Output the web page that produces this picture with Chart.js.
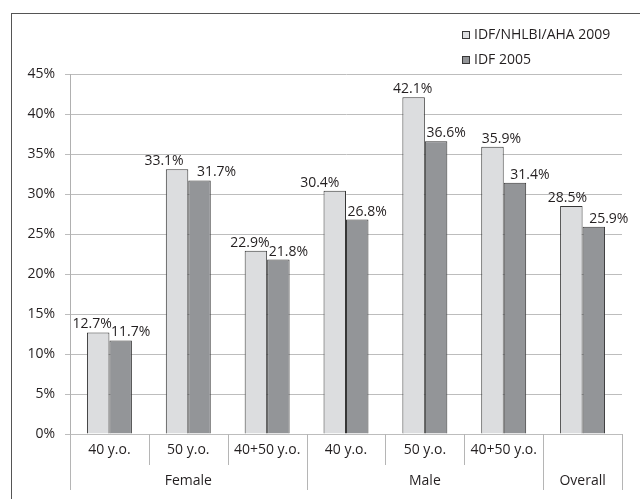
<!DOCTYPE html>
<html>
<head>
<meta charset="utf-8">
<script src="https://cdn.jsdelivr.net/npm/chart.js@4"></script>
<style>
  html, body { margin: 0; padding: 0; background: #ffffff; }
  #wrap { width: 640px; height: 499px; position: relative; }
</style>
</head>
<body>
<div id="wrap"><canvas id="chart"></canvas></div>
<script>
// Age groups along the x axis, and the sex groups they belong to
const categories = ['40 y.o.', '50 y.o.', '40+50 y.o.', '40 y.o.', '50 y.o.', '40+50 y.o.', ''];
const groupLabels = ['Female', 'Male', 'Overall'];
const groupSpans = [3, 3, 1];

// Prevalence (%) by definition
const seriesNames = ['IDF/NHLBI/AHA 2009', 'IDF 2005'];
const idf2009 = [12.7, 33.1, 22.9, 30.4, 42.1, 35.9, 28.5];
const idf2005 = [11.7, 31.7, 21.8, 26.8, 36.6, 31.4, 25.9];

// Value axis
const yMin = 0;
const yMax = 45;
const yStep = 5;

// Horizontal nudges (px) for the value labels so neighbours don't collide
const labelNudge = [
  [-6, -13, -6, -15, -1, 9, -4],
  [10, 17, 10, 10, 10, 15, 15]
];

const fillColors = ['#dcdddf', '#939598'];
const edgeColor = '#363636';
const textColor = '#231f20';
const fontFamily = "'Open Sans', 'DejaVu Sans', sans-serif";
const fontSize = 14;

Chart.defaults.font.family = fontFamily;
Chart.defaults.font.size = fontSize;
Chart.defaults.color = textColor;

// Outer frame around the figure
const framePlugin = {
  id: 'frame',
  afterDraw(chart) {
    const ctx = chart.ctx;
    ctx.save();
    ctx.strokeStyle = '#555555';
    ctx.lineWidth = 1;
    ctx.strokeRect(11.5, 13.5, 700, 600);
    ctx.restore();
  }
};

// Value labels above each bar
const valueLabelPlugin = {
  id: 'valueLabels',
  afterDatasetsDraw(chart) {
    const ctx = chart.ctx;
    ctx.save();
    ctx.font = fontSize + 'px ' + fontFamily;
    ctx.fillStyle = textColor;
    ctx.textAlign = 'center';
    ctx.textBaseline = 'alphabetic';
    chart.data.datasets.forEach((ds, di) => {
      chart.getDatasetMeta(di).data.forEach((bar, i) => {
        ctx.fillText(ds.data[i].toFixed(1) + '%', bar.x + labelNudge[di][i], bar.y - 4);
      });
    });
    ctx.restore();
  }
};

// Category dividers below the axis and the sex group labels
const groupAxisPlugin = {
  id: 'groupAxis',
  afterDraw(chart) {
    const xs = chart.scales.x;
    const ctx = chart.ctx;
    const n = categories.length;
    const edges = [];
    for (let i = 0; i <= n; i++) {
      if (i === 0) edges.push(xs.left);
      else if (i === n) edges.push(xs.right);
      else edges.push((xs.getPixelForValue(i - 1) + xs.getPixelForValue(i)) / 2);
    }
    const groupEdges = [0];
    groupSpans.forEach(s => groupEdges.push(groupEdges[groupEdges.length - 1] + s));
    const top = xs.top;
    ctx.save();
    ctx.strokeStyle = '#b5b5b5';
    ctx.lineWidth = 1;
    edges.forEach((x, i) => {
      const bottom = groupEdges.includes(i) ? top + 56 : top + 31;
      const px = Math.round(x) + 0.5;
      ctx.beginPath();
      ctx.moveTo(px, top);
      ctx.lineTo(px, bottom);
      ctx.stroke();
    });
    ctx.font = fontSize + 'px ' + fontFamily;
    ctx.fillStyle = textColor;
    ctx.textAlign = 'center';
    ctx.textBaseline = 'middle';
    groupLabels.forEach((lab, g) => {
      const x0 = edges[groupEdges[g]];
      const x1 = edges[groupEdges[g + 1]];
      ctx.fillText(lab, (x0 + x1) / 2, top + 47);
    });
    ctx.restore();
  }
};

// Legend stacked in the top-right corner
const cornerLegendPlugin = {
  id: 'cornerLegend',
  afterDraw(chart) {
    const ctx = chart.ctx;
    ctx.save();
    ctx.font = fontSize + 'px ' + fontFamily;
    ctx.textBaseline = 'middle';
    ctx.textAlign = 'left';
    chart.data.datasets.forEach((ds, i) => {
      const cy = 35 + i * 25;
      ctx.fillStyle = ds.backgroundColor;
      ctx.fillRect(462, cy - 4, 8, 8);
      ctx.strokeStyle = edgeColor;
      ctx.lineWidth = 1;
      ctx.strokeRect(462.5, cy - 3.5, 7, 7);
      ctx.fillStyle = textColor;
      ctx.fillText(ds.label, 474, cy);
    });
    ctx.restore();
  }
};

new Chart(document.getElementById('chart'), {
  type: 'bar',
  data: {
    labels: categories,
    datasets: [
      {
        label: seriesNames[0],
        data: idf2009,
        backgroundColor: fillColors[0],
        borderColor: edgeColor,
        borderWidth: 1
      },
      {
        label: seriesNames[1],
        data: idf2005,
        backgroundColor: fillColors[1],
        borderColor: edgeColor,
        borderWidth: 1
      }
    ]
  },
  options: {
    responsive: true,
    maintainAspectRatio: false,
    animation: false,
    devicePixelRatio: 1,
    layout: { padding: { left: 0, top: 74, right: 18, bottom: 0 } },
    datasets: { bar: { categoryPercentage: 0.57, barPercentage: 1.0 } },
    plugins: {
      legend: { display: false },
      tooltip: { enabled: false }
    },
    scales: {
      x: {
        grid: { display: false, drawTicks: false },
        border: { display: true, color: '#bdbdbd' },
        ticks: { padding: 8, color: textColor, font: { size: fontSize }, maxRotation: 0, autoSkip: false },
        afterFit(scale) { scale.height = 65; }
      },
      y: {
        min: yMin,
        max: yMax,
        ticks: {
          stepSize: yStep,
          padding: 10,
          color: textColor,
          font: { size: fontSize },
          callback: v => v + '%'
        },
        grid: { color: '#bdbdbd', tickLength: 5, lineWidth: 1 },
        border: { display: true, color: '#b0b0b0' },
        afterFit(scale) { scale.width = 70; }
      }
    }
  },
  plugins: [framePlugin, valueLabelPlugin, groupAxisPlugin, cornerLegendPlugin]
});
</script>
</body>
</html>
